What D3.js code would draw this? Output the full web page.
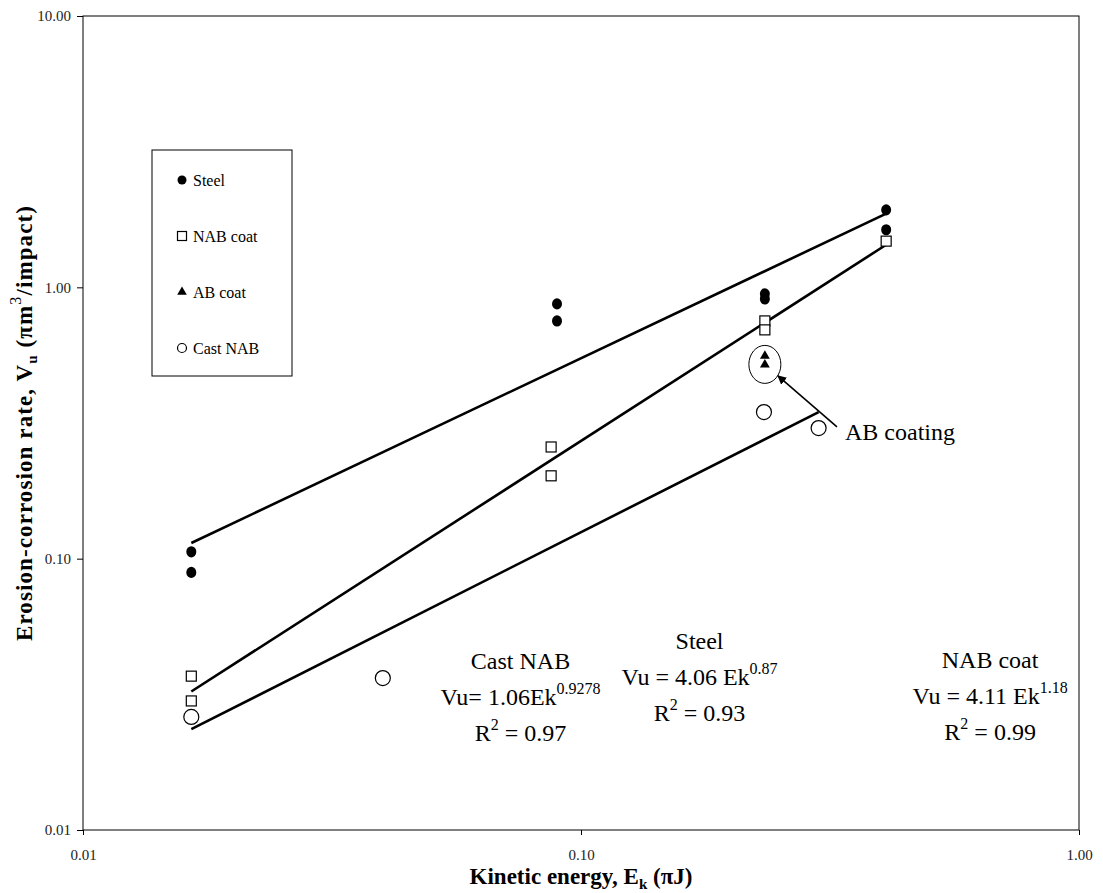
<!DOCTYPE html>
<html><head><meta charset="utf-8">
<script src="https://cdn.jsdelivr.net/npm/d3@7"></script>
<style>body{margin:0;background:#fff}svg{display:block}</style>
</head><body><svg id="c" width="1103" height="893"></svg>
<script>
// ---- data ----
const steelEk = [0.0165, 0.0165, 0.0895, 0.0895, 0.234, 0.234, 0.41, 0.41];
const steelVu = [0.106, 0.089, 0.869, 0.752, 0.946, 0.906, 1.93, 1.63];
const nabEk = [0.0165, 0.0165, 0.0871, 0.0871, 0.234, 0.234, 0.41];
const nabVu = [0.0369, 0.0299, 0.258, 0.202, 0.752, 0.697, 1.48];
const abEk = [0.234, 0.234];
const abVu = [0.559, 0.519];
const castEk = [0.0165, 0.040, 0.233, 0.300];
const castVu = [0.0261, 0.0363, 0.347, 0.303];
// fitted power laws Vu = a*Ek^b
const fitNames = ["Cast NAB", "Steel", "NAB coat"];
const fitA = [1.06, 4.06, 4.11];
const fitB = [0.9278, 0.87, 1.18];
const fitR2 = ["0.97", "0.93", "0.99"];
const xTicks = [0.01, 0.1, 1];
const yTicks = [0.01, 0.1, 1, 10];

const FONT = "'Liberation Serif', 'DejaVu Serif', 'Times New Roman', Times, serif";
const svg = d3.select("#c").attr("font-family", FONT);
const L = 83, R = 1079, T = 16, B = 830;
const x = d3.scaleLog().domain([0.01, 1]).range([L, R]);
const y = d3.scaleLog().domain([0.01, 10]).range([B, T]);
const fmt = d3.format(".2f");

// axes
const ya = svg.append("g").attr("transform", `translate(${L},0)`)
  .call(d3.axisLeft(y).tickValues(yTicks).tickFormat(fmt).tickSize(6).tickPadding(6));
const xa = svg.append("g").attr("transform", `translate(0,${B})`)
  .call(d3.axisBottom(x).tickValues(xTicks).tickFormat(fmt).tickSize(5).tickPadding(14));
[ya, xa].forEach(g => {
  g.attr("font-family", FONT);
  g.select(".domain").remove();
  g.selectAll("line").attr("stroke", "#000");
  g.selectAll("text").attr("font-size", 15).attr("fill", "#222");
});
svg.append("rect").attr("x", L).attr("y", T).attr("width", R - L).attr("height", B - T)
  .attr("fill", "none").attr("stroke", "#000").attr("stroke-width", 1);

// axis titles
const xt = svg.append("text").attr("x", (L + R) / 2).attr("y", 884).attr("text-anchor", "middle")
  .attr("font-size", 23).attr("font-weight", "bold");
xt.append("tspan").text("Kinetic energy, E");
xt.append("tspan").attr("font-size", 15).attr("dy", 5).text("k");
xt.append("tspan").attr("dy", -5).text(" (πJ)");

const yt = svg.append("text").attr("transform", `translate(32,${(T + B) / 2}) rotate(-90)`)
  .attr("text-anchor", "middle").attr("font-size", 23).attr("font-weight", "bold")
  .attr("letter-spacing", 1.1);
yt.append("tspan").text("Erosion-corrosion rate, V");
yt.append("tspan").attr("font-size", 15).attr("dy", 5).text("u");
yt.append("tspan").attr("dy", -5).text(" (πm");
yt.append("tspan").attr("font-size", 16).attr("font-weight", "normal").attr("dy", -11).text("3");
yt.append("tspan").attr("dy", 11).text("/impact)");

// trend lines
const fitEk = [castEk, steelEk, nabEk];
fitA.forEach((a, i) => {
  const lo = d3.min(fitEk[i]), hi = d3.max(fitEk[i]);
  const pts = [lo, hi].map(e => [x(e), y(a * Math.pow(e, fitB[i]))]);
  svg.append("path").attr("d", d3.line()(pts)).attr("stroke", "#000")
    .attr("stroke-width", 2.6).attr("fill", "none");
});

// markers
const zip = (a, b) => a.map((v, i) => [v, b[i]]);
const triangle = d3.symbol().type(d3.symbolTriangle);
svg.append("g").selectAll("ellipse").data(zip(steelEk, steelVu)).join("ellipse")
  .attr("cx", d => x(d[0])).attr("cy", d => y(d[1])).attr("rx", 5).attr("ry", 5.6).attr("fill", "#000");
svg.append("g").selectAll("rect").data(zip(nabEk, nabVu)).join("rect")
  .attr("x", d => x(d[0]) - 5).attr("y", d => y(d[1]) - 5).attr("width", 10).attr("height", 10)
  .attr("fill", "#fff").attr("stroke", "#000").attr("stroke-width", 1.2);
svg.append("g").selectAll("path").data(zip(abEk, abVu)).join("path")
  .attr("d", triangle.size(42)).attr("transform", d => `translate(${x(d[0])},${y(d[1])})`).attr("fill", "#000");
svg.append("g").selectAll("circle").data(zip(castEk, castVu)).join("circle")
  .attr("cx", d => x(d[0])).attr("cy", d => y(d[1])).attr("r", 7.5)
  .attr("fill", "#fff").attr("stroke", "#000").attr("stroke-width", 1.2);

// AB coating annotation
svg.append("ellipse").attr("cx", x(abEk[0])).attr("cy", y(0.52)).attr("rx", 16).attr("ry", 19)
  .attr("fill", "none").attr("stroke", "#000").attr("stroke-width", 1);
svg.append("defs").append("marker").attr("id", "ah").attr("viewBox", "0 0 10 10")
  .attr("refX", 9).attr("refY", 5).attr("markerWidth", 9).attr("markerHeight", 9)
  .attr("markerUnits", "userSpaceOnUse").attr("orient", "auto")
  .append("path").attr("d", "M0,0L10,5L0,10z").attr("fill", "#000");
svg.append("line").attr("x1", x(0.3266)).attr("y1", y(0.3059)).attr("x2", x(0.2486)).attr("y2", y(0.4715))
  .attr("stroke", "#000").attr("stroke-width", 1.6).attr("marker-end", "url(#ah)");
svg.append("text").attr("x", x(0.339)).attr("y", y(0.274)).attr("font-size", 24).text("AB coating");

// equation annotations
const eqX = [0.0756, 0.173, 0.663];
const eqY = [0.0392, 0.0465, 0.0395];
const eqFmt = ["Vu= 1.06Ek", "Vu = 4.06 Ek", "Vu = 4.11 Ek"];
fitNames.forEach((n, i) => {
  const cx = x(eqX[i]), by = y(eqY[i]);
  svg.append("text").attr("x", cx).attr("y", by).attr("text-anchor", "middle").attr("font-size", 24).text(n);
  const t2 = svg.append("text").attr("x", cx).attr("y", by + 36).attr("text-anchor", "middle").attr("font-size", 24);
  t2.append("tspan").text(eqFmt[i]);
  t2.append("tspan").attr("font-size", 16).attr("dy", -11).text(String(fitB[i]));
  const t3 = svg.append("text").attr("x", cx).attr("y", by + 72).attr("text-anchor", "middle").attr("font-size", 24);
  t3.append("tspan").text("R");
  t3.append("tspan").attr("font-size", 16).attr("dy", -11).text("2");
  t3.append("tspan").attr("dy", 11).text(" = " + fitR2[i]);
});

// legend
const legNames = ["Steel", "NAB coat", "AB coat", "Cast NAB"];
const lg = svg.append("g");
lg.append("rect").attr("x", 152).attr("y", 150).attr("width", 140).attr("height", 226)
  .attr("fill", "#fff").attr("stroke", "#000").attr("stroke-width", 1);
legNames.forEach((n, i) => {
  const cy = 180 + i * 56, mx = 182;
  if (i === 0) lg.append("circle").attr("cx", mx).attr("cy", cy).attr("r", 4.5).attr("fill", "#000");
  if (i === 1) lg.append("rect").attr("x", mx - 4.5).attr("y", cy - 4.5).attr("width", 9).attr("height", 9)
    .attr("fill", "#fff").attr("stroke", "#000").attr("stroke-width", 1.2);
  if (i === 2) lg.append("path").attr("d", triangle.size(40)).attr("transform", `translate(${mx},${cy})`).attr("fill", "#000");
  if (i === 3) lg.append("circle").attr("cx", mx).attr("cy", cy).attr("r", 4.5)
    .attr("fill", "#fff").attr("stroke", "#000").attr("stroke-width", 1.2);
  lg.append("text").attr("x", 193).attr("y", cy + 5.5).attr("font-size", 16).text(n);
});
</script></body></html>
